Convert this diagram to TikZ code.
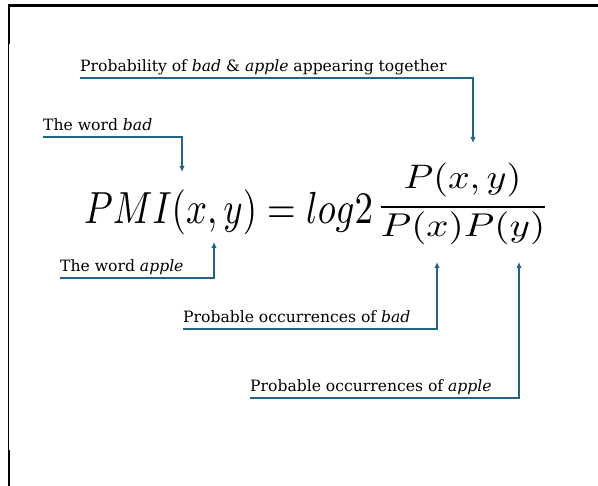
\documentclass[tikz,border=0pt]{standalone}
\usepackage[no-math]{fontspec}
\setmainfont{DejaVu Serif}
\usepackage{graphicx}
\usepackage{xcolor}
\usetikzlibrary{arrows.meta,positioning}
\definecolor{linkblue}{RGB}{36,99,130}

\begin{document}
\begin{tikzpicture}[x=1pt,y=-1pt,
  lbl/.style={inner sep=0pt,anchor=base west,font=\fontsize{15.6}{18}\selectfont},
  link/.style={linkblue,line width=2pt,-{Latex[length=6pt,width=5.5pt]}},
  eq/.style={inner sep=0pt}]
\useasboundingbox (0,0) rectangle (598,486);
% frame of the screenshot
\draw[line width=1.2pt] (8.5,486) -- (8.5,6) -- (598,6);
\draw[line width=2pt] (8.5,44) -- (8.5,5) -- (598,5);
\draw[line width=2pt] (8.5,450) -- (8.5,486);
% the formula
\node[eq,anchor=base west] (lhs) at (84,224) {\scalebox{3.68}[4.5]{$PMI(x,y)=log2$}};
\node[eq,anchor=base] (num) at (462.5,189) {\scalebox{3.8}[3.4]{$P(x,y)$}};
\node[eq,anchor=base] (den) at (463,237) {\scalebox{3.9}[3.3]{$P(x)P(y)$}};
\draw[line width=2.6pt] ([yshift=5pt]den.north west) -- ([yshift=5pt]den.north east);
% arrow targets
\coordinate (ttog) at (473,143);
\coordinate (tbad) at (182,172);
\coordinate (tapple) at (214,242);
\coordinate (tpx) at (437,262);
\coordinate (tpy) at (519,262);
% labels
\node[lbl] (tog) at (80,72) {Probability of \emph{bad} \& \emph{apple} appearing together};
\node[lbl] (wbad) at (43,131) {The word \emph{bad}};
\node[lbl] (wapple) at (60,272) {The word \emph{apple}};
\node[lbl] (occx) at (183,323) {Probable occurrences of \emph{bad}};
\node[lbl] (occy) at (250,392) {Probable occurrences of \emph{apple}};
\foreach \l/\t in {tog/ttog,wbad/tbad,wapple/tapple,occx/tpx,occy/tpy}
  \draw[link] ([yshift=-6.5pt]\l.base west) -| (\t);
\end{tikzpicture}
\end{document}
